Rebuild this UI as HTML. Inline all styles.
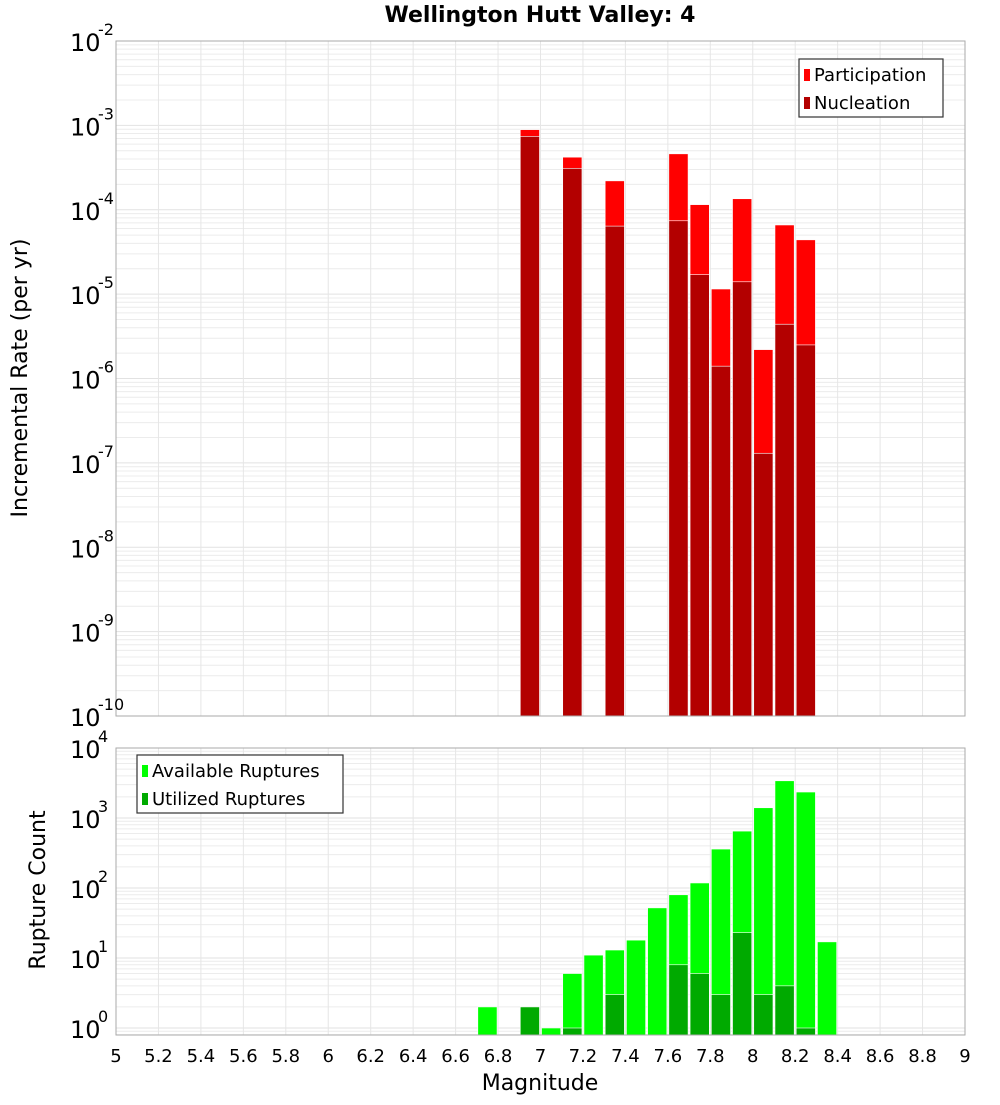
<!DOCTYPE html>
<html><head><meta charset="utf-8"><style>
body{margin:0;background:#fff;font-family:"Liberation Sans","DejaVu Sans",sans-serif}
svg text{font-family:"DejaVu Sans","Liberation Sans",sans-serif}
</style></head><body>
<svg id="c" width="1000" height="1100" xmlns="http://www.w3.org/2000/svg"></svg>
<script>
const bins=[6.95,7.15,7.35,7.65,7.75,7.85,7.95,8.05,8.15,8.25];
const participation=[8.9e-4,4.2e-4,2.2e-4,4.6e-4,1.15e-4,1.15e-5,1.35e-4,2.2e-6,6.6e-5,4.4e-5];
const nucleation=[7.4e-4,3.1e-4,6.4e-5,7.4e-5,1.7e-5,1.4e-6,1.4e-5,1.3e-7,4.4e-6,2.5e-6];
const cbins=[6.75,6.95,7.05,7.15,7.25,7.35,7.45,7.55,7.65,7.75,7.85,7.95,8.05,8.15,8.25,8.35];
const available=[2,2,1,6,11,13,18,52,80,118,360,650,1400,3400,2350,17];
const utilized=[0,2,0,1,0,3,0,0,8,6,3,23,3,4,1,0];
const xTicks=["5","5.2","5.4","5.6","5.8","6","6.2","6.4","6.6","6.8","7","7.2","7.4","7.6","7.8","8","8.2","8.4","8.6","8.8","9"];

const svg=document.getElementById('c');const NS='http://www.w3.org/2000/svg';
function mk(t,a,p){const e=document.createElementNS(NS,t);for(const k in a)e.setAttribute(k,a[k]);(p||svg).appendChild(e);return e;}
const X0=116,X1=965;
const x=v=>X0+(v-5)/4*(X1-X0);
const T={top:41,bot:716,lo:-10,hi:-2};
const B={top:748,bot:1035,lo:-0.1,hi:4};
const yT=v=>T.bot-(Math.log10(v)-T.lo)/(T.hi-T.lo)*(T.bot-T.top);
const yB=v=>B.bot-(Math.log10(v)-B.lo)/(B.hi-B.lo)*(B.bot-B.top);

function panel(P,yf,name){
  const g=mk('g',{});
  for(let d=Math.floor(P.lo);d<P.hi;d++)for(let m=1;m<10;m++){const v=m*Math.pow(10,d);const lv=Math.log10(v);if(lv<P.lo||lv>P.hi)continue;const yy=yf(v);
    mk('line',{x1:X0,x2:X1,y1:yy,y2:yy,stroke:m==1?'#e2e2e2':'#ececec','stroke-width':1},g);}
  for(let v=5;v<=9.001;v+=0.2){mk('line',{x1:x(v),x2:x(v),y1:P.top,y2:P.bot,stroke:'#e6e6e6','stroke-width':1},g);}
}
panel(T,yT,'top');panel(B,yB,'bottom');

function bars(arrX,arrV,yf,P,fill,name){
  arrX.forEach((b,i)=>{const v=arrV[i];if(!v)return;const yy=Math.max(yf(v),P.top);
    const r=mk('rect',{x:x(b-0.05)+1,y:yy,width:x(b+0.05)-x(b-0.05)-2,height:P.bot-yy,fill:fill,stroke:'#fff','stroke-width':0.6});
    });
}
bars(bins,participation,yT,T,'#ff0000','participation');
bars(bins,nucleation,yT,T,'#b30000','nucleation');
bars(cbins,available,yB,B,'#00ff00','available');
bars(cbins,utilized,yB,B,'#00aa00','utilized');

mk('rect',{x:X0,y:T.top,width:X1-X0,height:T.bot-T.top,fill:'none',stroke:'#aaa'});
mk('rect',{x:X0,y:B.top,width:X1-X0,height:B.bot-B.top,fill:'none',stroke:'#aaa'});

function ylabels(P,yf,list){list.forEach(d=>{const yy=yf(Math.pow(10,d));
  const t=mk('text',{x:70,y:yy+10,'font-size':24,fill:'#000'});t.textContent='10';
  const s=mk('text',{x:98,y:yy-6,'font-size':16,fill:'#000'});s.textContent=String(d);});}
ylabels(T,yT,[-2,-3,-4,-5,-6,-7,-8,-9,-10]);
ylabels(B,yB,[0,1,2,3,4]);

xTicks.forEach(l=>{const t=mk('text',{x:x(parseFloat(l)),y:1062,'font-size':18,'text-anchor':'middle',fill:'#000'});t.textContent=l;
  });

let t=mk('text',{x:540,y:1090,'font-size':22,'text-anchor':'middle'});t.textContent='Magnitude';
t=mk('text',{x:540,y:22,'font-size':22,'font-weight':'bold','text-anchor':'middle'});t.textContent='Wellington Hutt Valley: 4';
t=mk('text',{x:0,y:0,'font-size':22,'text-anchor':'middle',transform:'translate(27,378) rotate(-90)'});t.textContent='Incremental Rate (per yr)';
t=mk('text',{x:0,y:0,'font-size':22,'text-anchor':'middle',transform:'translate(45,890) rotate(-90)'});t.textContent='Rupture Count';

function legend(x0,y0,w,items,name){const g=mk('g',{});
  mk('rect',{x:x0,y:y0,width:w,height:58,fill:'#fff',stroke:'#333','stroke-width':1.2},g);
  items.forEach((it,i)=>{mk('rect',{x:x0+5,y:y0+10+i*28,width:6,height:12,fill:it[1]},g);
    const tt=mk('text',{x:x0+15,y:y0+22+i*28,'font-size':18},g);tt.textContent=it[0];});}
legend(799,59,144,[['Participation','#ff0000'],['Nucleation','#b30000']],'top-legend');
legend(137,755,206,[['Available Ruptures','#00ff00'],['Utilized Ruptures','#00aa00']],'bottom-legend');
</script>
</body></html>
